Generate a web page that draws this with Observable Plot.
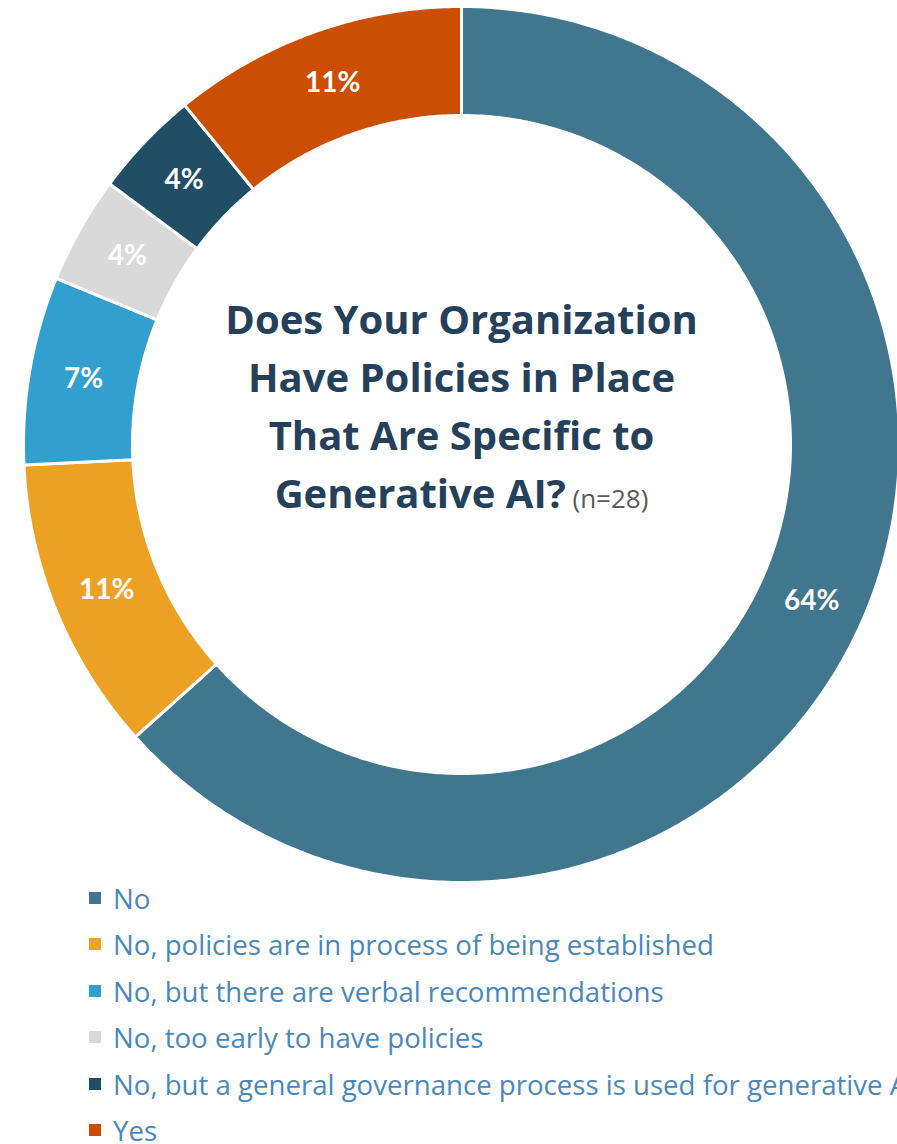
<!DOCTYPE html>
<html><head><meta charset="utf-8">
<script src="https://cdn.jsdelivr.net/npm/d3@7"></script>
<script src="https://cdn.jsdelivr.net/npm/@observablehq/plot@0.6"></script>
<style>
body{margin:0;background:#fff;width:897px;height:1144px;overflow:hidden;font-family:"Open Sans",sans-serif}
#chart svg{display:block}
#legend{margin-top:-1px;padding-left:89px}
.item{height:28px;line-height:28px;margin-bottom:18.4px;display:flex;align-items:center;white-space:nowrap;font-size:27.6px;color:#4A87BA}
.item:last-child{margin-bottom:0}
.sw{width:12px;height:12px;margin-right:12px;flex:none}
</style></head><body>
<div id="chart"></div><div id="legend"></div>
<script>
const categories = ["No","No, policies are in process of being established","No, but there are verbal recommendations","No, too early to have policies","No, but a general governance process is used for generative AI","Yes"];
const values = [64, 11, 7, 4, 4, 11];
const labels = ["64%", "11%", "7%", "4%", "4%", "11%"];
const colors = ["#41768F", "#EDA124", "#339FCE", "#D9D9D9", "#1F4E66", "#CB4E02"];
const titleLines = ["Does Your Organization", "Have Policies in Place", "That Are Specific to", "Generative AI?"];
const sampleNote = "(n=28)";

const W = 897, H = 885, cx = 461, cy = 444, R0 = 438, R1 = 329;
const rows = categories.map((c, i) => ({category: c, value: values[i], label: labels[i]}));
const arcs = d3.pie().sort(null).value(d => d.value)(rows);
const ring = [];
const cents = [];
arcs.forEach(p => {
  const s = p.startAngle, e = p.endAngle;
  const n = Math.max(8, Math.ceil((e - s) / 0.01));
  const pts = [];
  for (let k = 0; k <= n; k++) { const a = s + (e - s) * k / n; pts.push([R0 * Math.sin(a), R0 * Math.cos(a)]); }
  for (let k = n; k >= 0; k--) { const a = s + (e - s) * k / n; pts.push([R1 * Math.sin(a), R1 * Math.cos(a)]); }
  pts.push(pts[0]);
  pts.forEach(([x, y]) => ring.push({category: p.data.category, x, y}));
  const m = (s + e) / 2, rm = (R0 + R1) / 2;
  cents.push({category: p.data.category, label: p.data.label, x: rm * Math.sin(m), y: rm * Math.cos(m)});
});

const plot = Plot.plot({
  width: W, height: H,
  margin: 0,
  x: {domain: [-cx, W - cx], range: [0, W], axis: null},
  y: {domain: [-(H - cy), cy], range: [H, 0], axis: null},
  color: {domain: categories, range: colors},
  style: {fontFamily: "'Open Sans', sans-serif", overflow: "visible", background: "#fff"},
  marks: [
    Plot.line(ring, {x: "x", y: "y", z: "category", fill: "category", stroke: "white", strokeWidth: 3, curve: "linear"}),
    Plot.text(cents, {x: "x", y: "y", text: "label", fill: "white", fontSize: 28, fontWeight: 700, fontFamily: "Lato, sans-serif"}),
    Plot.text([titleLines.join("\n")], {x: () => 0, y: () => 0, text: d => d, dy: -42, lineHeight: 1.45, fontSize: 40, fontWeight: 700, fill: "#25405B"})
  ]
});
document.getElementById("chart").appendChild(plot);
d3.select(plot).selectAll("tspan").filter(function() { return this.textContent === titleLines[titleLines.length - 1]; })
  .append("tspan").attr("font-size", 26).attr("font-weight", 400).attr("fill", "#595959").text(" " + sampleNote);

const legend = d3.select("#legend");
categories.forEach((c, i) => {
  const it = legend.append("div").attr("class", "item");
  it.append("span").attr("class", "sw").style("background", colors[i]);
  it.append("span").text(c);
});
</script>
</body></html>
